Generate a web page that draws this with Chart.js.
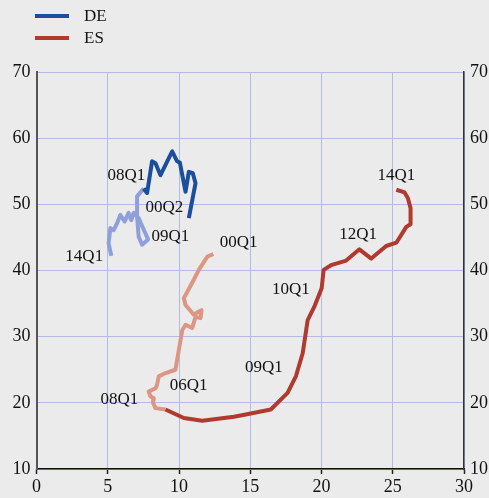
<!DOCTYPE html>
<html>
<head>
<meta charset="utf-8">
<script src="https://cdn.jsdelivr.net/npm/chart.js@4/dist/chart.umd.min.js"></script>
<style>
  html, body { margin: 0; padding: 0; background: #ebebeb; }
  #wrap { width: 489px; height: 498px; position: relative; }
</style>
</head>
<body>
<div id="wrap"><canvas id="chart"></canvas></div>
<script>
// DE: 00Q2 -> 08Q1 (dark) and 08Q1 -> 14Q1 (light)
const deEarlyX = [10.69, 11.16, 10.97, 10.69, 10.46, 10.06, 9.87, 9.52, 8.70, 8.35, 8.11, 7.76, 7.52];
const deEarlyY = [47.9, 53.2, 54.7, 54.9, 51.9, 56.3, 56.5, 58.0, 54.4, 56.2, 56.5, 51.7, 52.4];
const deLateX = [7.52, 7.06, 7.06, 7.17, 7.41, 7.83, 7.17, 6.82, 6.65, 6.46, 6.18, 5.88, 5.65, 5.41, 5.18, 5.06, 5.25];
const deLateY = [52.4, 51.2, 48.1, 45.1, 43.9, 44.7, 47.9, 48.7, 47.6, 48.7, 47.4, 48.4, 47.1, 46.1, 46.4, 44.1, 42.2];

// ES: 00Q1 -> 08Q1 (light) and 08Q1 -> 14Q1 (dark)
const esEarlyX = [12.41, 11.99, 11.39, 11.04, 10.34, 10.46, 11.04, 11.39, 11.58, 11.51, 11.16, 10.93, 10.46, 10.23, 9.75, 9.05, 8.58, 8.46, 8.35, 7.87, 7.99, 8.23, 8.18, 8.35, 9.05];
const esEarlyY = [42.5, 42.1, 40.1, 38.6, 35.8, 34.8, 33.3, 33.8, 34.0, 32.8, 33.0, 31.3, 31.8, 31.0, 25.0, 24.5, 24.0, 22.7, 22.2, 21.7, 21.0, 20.7, 20.0, 19.2, 19.0];
const esLateX = [9.05, 10.34, 11.63, 13.86, 15.04, 16.44, 17.62, 18.20, 18.68, 19.03, 19.49, 20.01, 20.15, 20.67, 21.73, 22.66, 23.49, 24.54, 25.25, 25.95, 26.25, 26.25, 26.07, 25.83, 25.25];
const esLateY = [19.0, 17.7, 17.3, 17.9, 18.4, 19.0, 21.5, 24.0, 27.5, 32.5, 34.5, 37.3, 40.1, 40.8, 41.5, 43.2, 41.8, 43.7, 44.2, 46.6, 47.0, 49.4, 50.9, 51.8, 52.2];

// quarter labels placed next to the curves
const noteText = ['08Q1', '00Q2', '09Q1', '14Q1', '00Q1', '06Q1', '08Q1', '09Q1', '10Q1', '12Q1', '14Q1'];
const noteX = [6.31, 8.98, 9.40, 3.35, 14.19, 10.67, 5.81, 15.95, 17.85, 22.57, 25.25];
const noteY = [54.4, 49.5, 45.1, 42.1, 44.3, 22.6, 20.5, 25.3, 37.1, 45.5, 54.4];

const legendNames = ['DE', 'ES'];

const DE_DARK = '#1b4f9e';
const DE_LIGHT = '#8e9fd9';
const ES_DARK = '#b03a2e';
const ES_LIGHT = '#dc9683';
const FONT = "'Liberation Serif', 'DejaVu Serif', serif";

function toPoints(xs, ys) {
    return xs.map(function (x, i) { return { x: x, y: ys[i] }; });
}

function segment(label, xs, ys, color) {
    return {
        label: label,
        data: toPoints(xs, ys),
        showLine: true,
        borderColor: color,
        backgroundColor: color,
        borderWidth: 4,
        borderJoinStyle: 'round',
        borderCapStyle: 'butt',
        pointRadius: 0,
        tension: 0
    };
}

// background, quarter labels and a hand-drawn legend
const extras = {
    id: 'extras',
    beforeDraw: function (chart) {
        const ctx = chart.ctx;
        ctx.save();
        ctx.fillStyle = '#ebebeb';
        ctx.fillRect(0, 0, chart.width, chart.height);
        ctx.restore();
    },
    afterDatasetsDraw: function (chart) {
        const ctx = chart.ctx;
        const xs = chart.scales.x;
        const ys = chart.scales.y;
        ctx.save();
        ctx.font = '17px ' + FONT;
        ctx.fillStyle = '#111';
        ctx.textAlign = 'center';
        ctx.textBaseline = 'middle';
        noteText.forEach(function (t, i) {
            ctx.fillText(t, xs.getPixelForValue(noteX[i]), ys.getPixelForValue(noteY[i]));
        });

        // legend
        const colors = [DE_DARK, ES_DARK];
        legendNames.forEach(function (name, i) {
            const y = 16 + i * 22;
            ctx.strokeStyle = colors[i];
            ctx.lineWidth = 4;
            ctx.beginPath();
            ctx.moveTo(35, y);
            ctx.lineTo(69, y);
            ctx.stroke();
            ctx.fillStyle = '#111';
            ctx.textAlign = 'left';
            ctx.font = '17px ' + FONT;
            ctx.fillText(name, 84, y + 1);
        });
        ctx.restore();
    }
};

const ctx = document.getElementById('chart').getContext('2d');
const chart = new Chart(ctx, {
    type: 'scatter',
    data: {
        datasets: [
            segment('ES', esLateX, esLateY, ES_DARK),
            segment('ES early', esEarlyX, esEarlyY, ES_LIGHT),
            segment('DE early', deEarlyX, deEarlyY, DE_DARK),
            segment('DE', deLateX, deLateY, DE_LIGHT)
        ]
    },
    options: {
        responsive: true,
        maintainAspectRatio: false,
        animation: false,
        layout: { padding: { top: 72, left: 0, right: 0, bottom: 0 } },
        plugins: {
            legend: { display: false },
            tooltip: { enabled: false }
        },
        scales: {
            x: {
                type: 'linear',
                min: 0,
                max: 30,
                ticks: { stepSize: 5, color: '#111', font: { family: FONT, size: 18 }, padding: 2, maxRotation: 0 },
                grid: { color: '#b3bbe3', lineWidth: 1, tickColor: '#222', tickLength: 5, tickWidth: 1.5 },
                border: { color: '#111', width: 1.5 },
                afterFit: function (s) { s.height = 29; }
            },
            y: {
                type: 'linear',
                min: 10,
                max: 70,
                ticks: { stepSize: 10, color: '#111', font: { family: FONT, size: 18 }, padding: 6 },
                grid: { color: '#b3bbe3', lineWidth: 1, drawTicks: false },
                border: { color: '#555', width: 2 },
                afterFit: function (s) { s.width = 36.5; }
            },
            y2: {
                type: 'linear',
                position: 'right',
                min: 10,
                max: 70,
                ticks: { stepSize: 10, color: '#111', font: { family: FONT, size: 18 }, padding: 6 },
                grid: { drawOnChartArea: false, drawTicks: false },
                border: { color: '#333', width: 1.5 },
                afterFit: function (s) { s.width = 25; }
            }
        }
    },
    plugins: [extras]
});
</script>
</body>
</html>
